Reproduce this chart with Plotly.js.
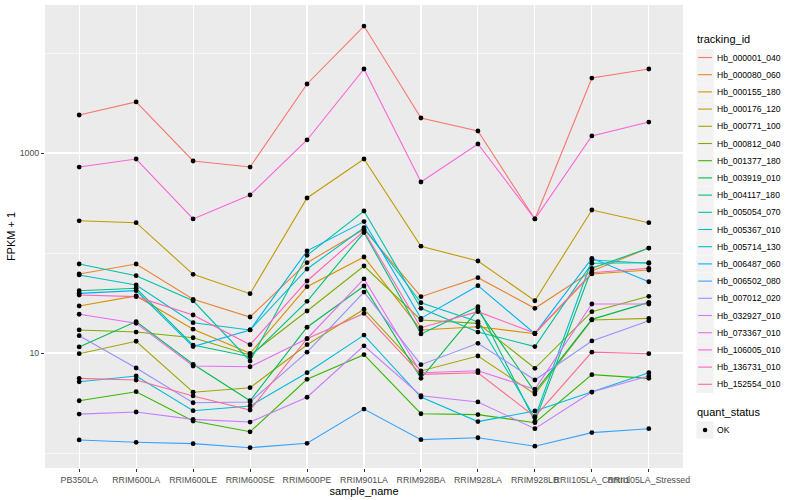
<!DOCTYPE html>
<html>
<head>
<meta charset="utf-8">
<script src="https://cdn.plot.ly/plotly-3.0.1.min.js"></script>
<style>html,body{margin:0;padding:0;background:#fff}#chart{width:800px;height:500px}</style>
</head>
<body>
<div id="chart"></div>
<script>
const samples = ["PB350LA","RRIM600LA","RRIM600LE","RRIM600SE","RRIM600PE","RRIM901LA","RRIM928BA","RRIM928LA","RRIM928LB","RRII105LA_Control","RRII105LA_Stressed"];
const trackingIds = ["Hb_000001_040","Hb_000080_060","Hb_000155_180","Hb_000176_120","Hb_000771_100","Hb_000812_040","Hb_001377_180","Hb_003919_010","Hb_004117_180","Hb_005054_070","Hb_005367_010","Hb_005714_130","Hb_006487_060","Hb_006502_080","Hb_007012_020","Hb_032927_010","Hb_073367_010","Hb_106005_010","Hb_136731_010","Hb_152554_010"];
const quantStatus = ["OK"];

const hb_000001_040 = [2400, 3240, 832, 724, 4900, 18600, 2240, 1660, 219, 5620, 6920];
const hb_000080_060 = [61.7, 77.6, 34.4, 22.9, 80.0, 173, 36.6, 56.6, 28.0, 66.1, 112];
const hb_000155_180 = [29.5, 37.2, 17.3, 9.93, 46.0, 91.2, 17.0, 18.3, 15.6, 61.7, 67.6];
const hb_000176_120 = [210, 201, 61.2, 39.2, 355, 871, 117, 83.2, 33.3, 269, 201];
const hb_000771_100 = [9.84, 13.1, 4.05, 4.50, 12.1, 27.4, 6.61, 9.33, 3.89, 21.4, 22.2];
const hb_000812_040 = [17.0, 16.2, 14.2, 9.55, 26.3, 74.1, 21.4, 19.8, 7.03, 25.9, 36.9];
const hb_001377_180 = [3.33, 4.10, 2.09, 1.63, 5.46, 9.62, 2.47, 2.42, 2.01, 6.07, 5.58];
const hb_003919_010 = [11.5, 20.6, 7.71, 3.33, 18.1, 46.8, 5.58, 26.9, 4.10, 21.7, 32.1];
const hb_004117_180 = [42.0, 44.4, 12.0, 9.18, 32.9, 160, 15.5, 29.0, 2.06, 70.3, 112];
const hb_005054_070 = [77.6, 59.3, 33.3, 8.32, 94.8, 263, 28.0, 16.2, 11.6, 78.9, 80.0];
const hb_005367_010 = [60.3, 47.9, 20.1, 17.0, 69.2, 179, 31.8, 20.6, 2.25, 85.1, 78.9];
const hb_005714_130 = [5.16, 5.89, 2.65, 2.95, 6.35, 15.1, 3.63, 2.06, 2.63, 4.07, 6.35];
const hb_006487_060 = [39.5, 42.0, 11.6, 17.0, 105, 206, 22.2, 47.1, 15.6, 88.5, 51.6];
const hb_006502_080 = [1.35, 1.28, 1.24, 1.13, 1.25, 2.75, 1.36, 1.42, 1.17, 1.60, 1.75];
const hb_007012_020 = [14.9, 7.08, 3.18, 3.24, 10.2, 40.7, 7.64, 12.5, 5.37, 13.2, 21.0];
const hb_032927_010 = [2.45, 2.57, 2.17, 2.04, 3.61, 11.8, 3.74, 3.24, 1.75, 4.07, 5.89];
const hb_073367_010 = [24.4, 19.8, 7.41, 7.29, 13.9, 55.0, 6.35, 6.65, 4.34, 30.9, 30.9];
const hb_106005_010 = [724, 871, 219, 380, 1350, 6920, 513, 1230, 219, 1480, 2040];
const hb_136731_010 = [38.0, 36.6, 24.0, 12.1, 52.5, 166, 17.9, 25.9, 15.8, 63.5, 70.3];
const hb_152554_010 = [5.58, 5.37, 3.72, 2.69, 13.9, 24.9, 6.12, 6.35, 2.31, 10.2, 9.84];

const seriesValues = [hb_000001_040, hb_000080_060, hb_000155_180, hb_000176_120, hb_000771_100, hb_000812_040, hb_001377_180, hb_003919_010, hb_004117_180, hb_005054_070, hb_005367_010, hb_005714_130, hb_006487_060, hb_006502_080, hb_007012_020, hb_032927_010, hb_073367_010, hb_106005_010, hb_136731_010, hb_152554_010];

const yTickVals = [10, 1000];
const yTickText = ["10", "1000"];
const yMinorVals = [1, 100, 10000];

const colors = ["#F8766D","#EA8331","#D89000","#C09B00","#A3A500","#7CAE00","#39B600","#00BB4E","#00BF7D","#00C1A3","#00BFC4","#00BAE0","#00B0F6","#35A2FF","#9590FF","#C77CFF","#E76BF3","#FA62DB","#FF62BC","#FF6C91"];

const FONT = "Liberation Sans, Arial, Helvetica, sans-serif";
const W = 800, H = 500;
const M = {l: 45, r: 116.5, t: 5, b: 32};
const PW = W - M.l - M.r, PH = H - M.t - M.b;
const px2x = p => (p - M.l) / PW;
const px2y = p => 1 - (p - M.t) / PH;

const traces = [];
trackingIds.forEach((id, i) => {
  traces.push({
    type: "scatter", mode: "lines", name: id,
    x: samples, y: seriesValues[i],
    line: {color: colors[i], width: 1.1},
    hoverinfo: "skip", showlegend: false
  });
});
const ptX = [], ptY = [];
seriesValues.forEach(vals => vals.forEach((v, j) => { ptX.push(samples[j]); ptY.push(v); }));
traces.push({
  type: "scatter", mode: "markers", name: quantStatus[0],
  x: ptX, y: ptY,
  marker: {color: "#000000", size: 4.8},
  hoverinfo: "skip", showlegend: false
});

// Legend drawn as layout shapes/annotations (ggplot-style keys)
const shapes = [], annotations = [];
const LX = 697, KEY = 17.2, TX = 716;
function legendTitle(text, yc) {
  annotations.push({xref: "paper", yref: "paper", x: px2x(LX - 1), y: px2y(yc), xanchor: "left", yanchor: "middle",
    text: text, showarrow: false, font: {family: FONT, size: 11, color: "#000000"}});
}
function keyBox(yc) {
  shapes.push({type: "rect", xref: "paper", yref: "paper", layer: "below",
    x0: px2x(LX), x1: px2x(LX + KEY), y0: px2y(yc - KEY / 2), y1: px2y(yc + KEY / 2),
    fillcolor: "#F2F2F2", line: {width: 0}});
}
function keyLabel(text, yc) {
  annotations.push({xref: "paper", yref: "paper", x: px2x(TX), y: px2y(yc), xanchor: "left", yanchor: "middle",
    text: text, showarrow: false, font: {family: FONT, size: 8.6, color: "#000000"}});
}
legendTitle("tracking_id", 39);
trackingIds.forEach((id, i) => {
  const yc = 57.5 + KEY * i;
  keyBox(yc);
  shapes.push({type: "line", xref: "paper", yref: "paper",
    x0: px2x(LX + 1.7), x1: px2x(LX + KEY - 1.7), y0: px2y(yc), y1: px2y(yc),
    line: {color: colors[i], width: 1.1}});
  keyLabel(id, yc);
});
legendTitle("quant_status", 412);
{
  const yc = 430;
  keyBox(yc);
  const r = 2.3;
  shapes.push({type: "circle", xref: "paper", yref: "paper",
    x0: px2x(LX + KEY / 2 - r), x1: px2x(LX + KEY / 2 + r), y0: px2y(yc - r), y1: px2y(yc + r),
    fillcolor: "#000000", line: {width: 0}});
  keyLabel(quantStatus[0], yc);
}

const layout = {
  width: W, height: H,
  paper_bgcolor: "#FFFFFF", plot_bgcolor: "#EBEBEB",
  margin: M,
  font: {family: FONT, color: "#000000"},
  showlegend: false,
  shapes: shapes, annotations: annotations,
  xaxis: {
    type: "category", categoryorder: "array", categoryarray: samples,
    range: [-0.6, 10.6], tickangle: 0,
    showgrid: true, gridcolor: "#FFFFFF", gridwidth: 1.1,
    zeroline: false, showline: false,
    ticks: "outside", ticklen: 3, tickcolor: "#333333", tickwidth: 1,
    tickfont: {family: FONT, size: 8.8, color: "#4D4D4D"},
    title: {text: "sample_name", font: {family: FONT, size: 11, color: "#000000"}, standoff: 3}
  },
  yaxis: {
    type: "log", range: [-0.15, 4.48],
    tickvals: yTickVals, ticktext: yTickText,
    showgrid: true, gridcolor: "#FFFFFF", gridwidth: 1.1,
    minor: {tickvals: yMinorVals, showgrid: true, gridcolor: "#FFFFFF", gridwidth: 0.55, ticks: ""},
    zeroline: false, showline: false,
    ticks: "outside", ticklen: 3, tickcolor: "#333333", tickwidth: 1,
    tickfont: {family: FONT, size: 8.8, color: "#4D4D4D"},
    title: {text: "FPKM + 1", font: {family: FONT, size: 11, color: "#000000"}, standoff: 1}
  }
};

Plotly.newPlot("chart", traces, layout, {displayModeBar: false, staticPlot: true});
</script>
</body>
</html>
